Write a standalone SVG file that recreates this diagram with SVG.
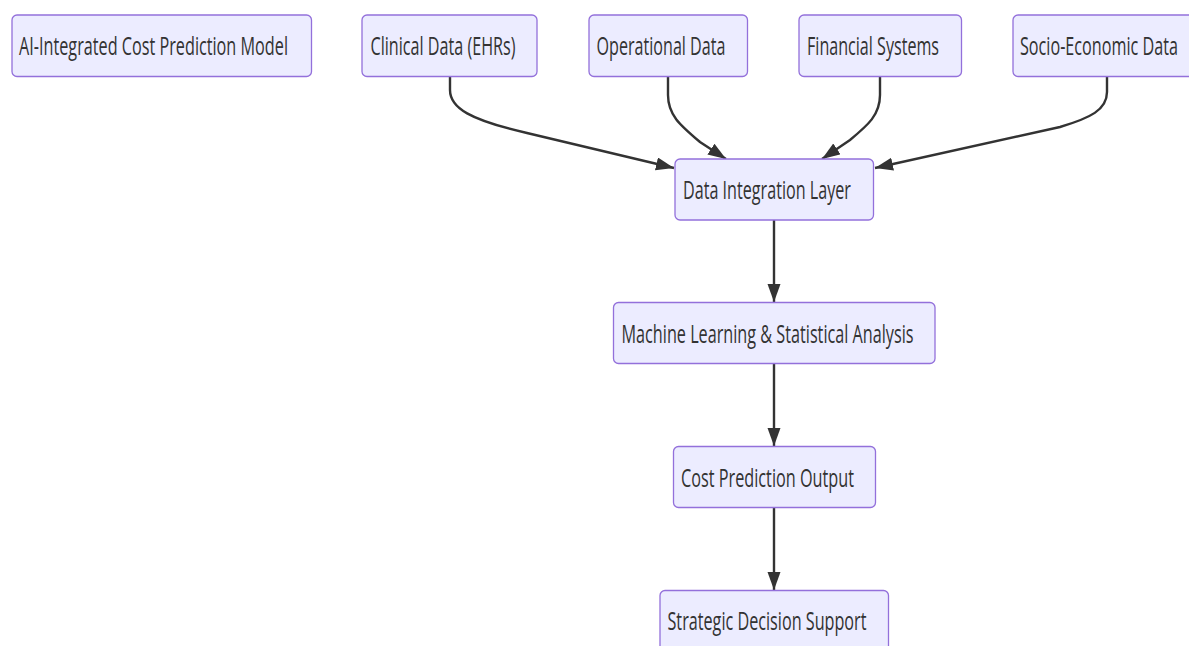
<svg xmlns="http://www.w3.org/2000/svg" width="1189" height="646" viewBox="0 0 1189 646">
<style>
.node rect{fill:#ECECFF;stroke:#9370DB;stroke-width:1.3px}
.node text{font-family:"Open Sans","Liberation Sans",sans-serif;font-size:26px;fill:#333}
.edge{fill:none;stroke:#333;stroke-width:2.4px}
</style>
<defs>
<marker id="arrow" markerUnits="userSpaceOnUse" markerWidth="20" markerHeight="14" refX="18" refY="6.5" orient="auto">
<path d="M0,0 L18,6.5 L0,13 z" fill="#333"/>
</marker>
</defs>
<g id="connectors">
<path class="edge" d="M450,77 L450,90 C450,108 470,120 527,133 L674,168" marker-end="url(#arrow)"/>
<path class="edge" d="M668,77 L668,95 C668,115 680,125 700,142 L726,159" marker-end="url(#arrow)"/>
<path class="edge" d="M880,77 L880,95 C880,115 868,125 850,140 L822,159" marker-end="url(#arrow)"/>
<path class="edge" d="M1107,77 L1107,92 C1107,110 1090,118 1060,127 L875,168" marker-end="url(#arrow)"/>
<path class="edge" d="M774,220 L774,302" marker-end="url(#arrow)"/>
<path class="edge" d="M774,363 L774,446" marker-end="url(#arrow)"/>
<path class="edge" d="M774,508 L774,590" marker-end="url(#arrow)"/>
</g>
<g id="node-title" class="node">
<rect x="12" y="15" width="299.5" height="61.5" rx="5"/>
<text transform="translate(19,55) scale(0.57,1)" textLength="471.9" lengthAdjust="spacingAndGlyphs">AI-Integrated Cost Prediction Model</text>
</g>
<g id="node-clinical" class="node">
<rect x="362" y="15" width="175" height="61.5" rx="5"/>
<text transform="translate(370.5,55) scale(0.57,1)" textLength="254.4" lengthAdjust="spacingAndGlyphs">Clinical Data (EHRs)</text>
</g>
<g id="node-operational" class="node">
<rect x="589" y="15" width="158.5" height="61.5" rx="5"/>
<text transform="translate(596.5,55) scale(0.57,1)" textLength="226.3" lengthAdjust="spacingAndGlyphs">Operational Data</text>
</g>
<g id="node-financial" class="node">
<rect x="799" y="15" width="162.5" height="61.5" rx="5"/>
<text transform="translate(807,55) scale(0.57,1)" textLength="231.6" lengthAdjust="spacingAndGlyphs">Financial Systems</text>
</g>
<g id="node-socio" class="node">
<rect x="1013" y="15" width="195" height="61.5" rx="5"/>
<text transform="translate(1020,55) scale(0.57,1)" textLength="277.2" lengthAdjust="spacingAndGlyphs">Socio-Economic Data</text>
</g>
<g id="node-integration" class="node">
<rect x="675" y="159" width="198.5" height="61" rx="5"/>
<text transform="translate(683,199) scale(0.57,1)" textLength="294.7" lengthAdjust="spacingAndGlyphs">Data Integration Layer</text>
</g>
<g id="node-ml" class="node">
<rect x="613.5" y="302.5" width="321.5" height="61" rx="5"/>
<text transform="translate(621.5,342.5) scale(0.57,1)" textLength="512.3" lengthAdjust="spacingAndGlyphs">Machine Learning &amp; Statistical Analysis</text>
</g>
<g id="node-output" class="node">
<rect x="673.5" y="446.5" width="202" height="61" rx="5"/>
<text transform="translate(681,486.5) scale(0.57,1)" textLength="303.5" lengthAdjust="spacingAndGlyphs">Cost Prediction Output</text>
</g>
<g id="node-strategic" class="node">
<rect x="660" y="590.5" width="228.5" height="70" rx="5"/>
<text transform="translate(667.5,630) scale(0.57,1)" textLength="349.1" lengthAdjust="spacingAndGlyphs">Strategic Decision Support</text>
</g>
</svg>
